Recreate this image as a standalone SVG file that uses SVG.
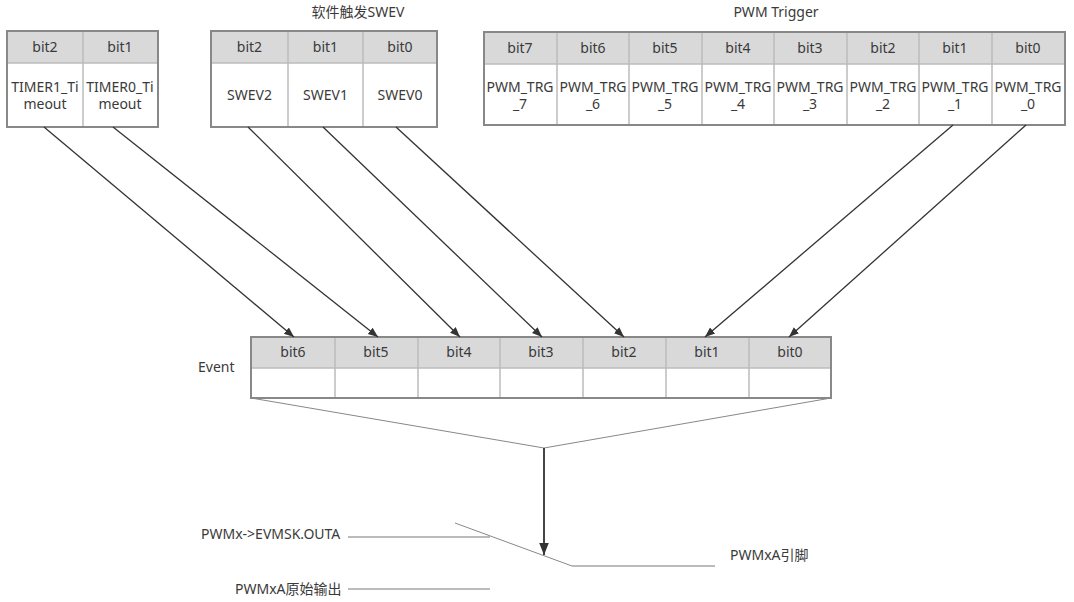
<svg xmlns="http://www.w3.org/2000/svg" width="1074" height="602" viewBox="0 0 1074 602">
<style>
text{font-family:"Noto Sans","Noto Sans CJK SC",sans-serif;font-size:14px;fill:#3a3a3a;}
.c{text-anchor:middle;}
.hdr{fill:#d9d9d9;stroke:none;}
.body{fill:#fff;stroke:none;}
.outer{fill:none;stroke:#888;stroke-width:2;}
.div{stroke:#bbb;stroke-width:1.5;fill:none;}
.conn{stroke:#333;stroke-width:1.3;fill:none;marker-end:url(#ah);}
.thin{stroke:#888;stroke-width:1;fill:none;}
.gl{stroke:#bbb;stroke-width:2;fill:none;}
</style>
<defs>
<marker id="ah" viewBox="0 0 10 10" refX="10" refY="5" markerWidth="10" markerHeight="10" markerUnits="userSpaceOnUse" orient="auto">
<path d="M0,1 L10,5 L0,9 z" fill="#333"/>
</marker>
<marker id="ah2" viewBox="0 0 10 10" refX="10" refY="5" markerWidth="12" markerHeight="12" markerUnits="userSpaceOnUse" orient="auto">
<path d="M0,1 L10,5 L0,9 z" fill="#333"/>
</marker>
</defs>
<rect width="1074" height="602" fill="#fff"/>

<g id="timer">
<rect class="hdr" x="7" y="31" width="151" height="32"/>
<rect class="body" x="7" y="63" width="151" height="64"/>
<line class="div" x1="7" y1="63" x2="158" y2="63"/>
<line class="div" x1="83" y1="31" x2="83" y2="127"/>
<rect class="outer" x="7" y="31" width="151" height="96"/>
<text class="c" x="45" y="52">bit2</text>
<text class="c" x="120" y="52">bit1</text>
<text class="c" x="45" y="92">TIMER1_Ti</text>
<text class="c" x="45" y="109">meout</text>
<text class="c" x="120" y="92">TIMER0_Ti</text>
<text class="c" x="120" y="109">meout</text>
</g>

<g id="swev">
<text class="c" x="358" y="17">软件触发SWEV</text>
<rect class="hdr" x="211" y="31" width="226" height="32"/>
<rect class="body" x="211" y="63" width="226" height="64"/>
<line class="div" x1="211" y1="63" x2="437" y2="63"/>
<line class="div" x1="288" y1="31" x2="288" y2="127"/>
<line class="div" x1="363" y1="31" x2="363" y2="127"/>
<rect class="outer" x="211" y="31" width="226" height="96"/>
<text class="c" x="249.5" y="52">bit2</text>
<text class="c" x="325.5" y="52">bit1</text>
<text class="c" x="400" y="52">bit0</text>
<text class="c" x="249.5" y="100">SWEV2</text>
<text class="c" x="325.5" y="100">SWEV1</text>
<text class="c" x="400" y="100">SWEV0</text>
</g>

<g id="pwmtrg">
<text class="c" x="776" y="17">PWM Trigger</text>
<rect class="hdr" x="484" y="32" width="581" height="32"/>
<rect class="body" x="484" y="64" width="581" height="61"/>
<line class="div" x1="484" y1="64" x2="1065" y2="64"/>
<g class="div">
<line x1="557" y1="32" x2="557" y2="125"/>
<line x1="629" y1="32" x2="629" y2="125"/>
<line x1="702" y1="32" x2="702" y2="125"/>
<line x1="774" y1="32" x2="774" y2="125"/>
<line x1="847" y1="32" x2="847" y2="125"/>
<line x1="919" y1="32" x2="919" y2="125"/>
<line x1="992" y1="32" x2="992" y2="125"/>
</g>
<rect class="outer" x="484" y="32" width="581" height="93"/>
<text class="c" x="520" y="53">bit7</text>
<text class="c" x="593" y="53">bit6</text>
<text class="c" x="665" y="53">bit5</text>
<text class="c" x="738" y="53">bit4</text>
<text class="c" x="810" y="53">bit3</text>
<text class="c" x="883" y="53">bit2</text>
<text class="c" x="955" y="53">bit1</text>
<text class="c" x="1028" y="53">bit0</text>
<text class="c" x="520" y="92">PWM_TRG</text><text class="c" x="520" y="109">_7</text>
<text class="c" x="593" y="92">PWM_TRG</text><text class="c" x="593" y="109">_6</text>
<text class="c" x="665" y="92">PWM_TRG</text><text class="c" x="665" y="109">_5</text>
<text class="c" x="738" y="92">PWM_TRG</text><text class="c" x="738" y="109">_4</text>
<text class="c" x="810" y="92">PWM_TRG</text><text class="c" x="810" y="109">_3</text>
<text class="c" x="883" y="92">PWM_TRG</text><text class="c" x="883" y="109">_2</text>
<text class="c" x="955" y="92">PWM_TRG</text><text class="c" x="955" y="109">_1</text>
<text class="c" x="1028" y="92">PWM_TRG</text><text class="c" x="1028" y="109">_0</text>
</g>

<g id="event">
<text x="198" y="372">Event</text>
<rect class="hdr" x="251" y="337" width="580" height="31"/>
<rect class="body" x="251" y="368" width="580" height="30"/>
<line class="div" x1="251" y1="368" x2="831" y2="368"/>
<g class="div">
<line x1="335" y1="337" x2="335" y2="398"/>
<line x1="418" y1="337" x2="418" y2="398"/>
<line x1="500" y1="337" x2="500" y2="398"/>
<line x1="583" y1="337" x2="583" y2="398"/>
<line x1="666" y1="337" x2="666" y2="398"/>
<line x1="749" y1="337" x2="749" y2="398"/>
</g>
<rect class="outer" x="251" y="337" width="580" height="61"/>
<text class="c" x="293" y="357">bit6</text>
<text class="c" x="376" y="357">bit5</text>
<text class="c" x="459" y="357">bit4</text>
<text class="c" x="541" y="357">bit3</text>
<text class="c" x="624" y="357">bit2</text>
<text class="c" x="707" y="357">bit1</text>
<text class="c" x="790" y="357">bit0</text>
</g>

<g id="output">
<text x="201" y="539">PWMx-&gt;EVMSK.OUTA</text>
<text x="730" y="560">PWMxA引脚</text>
<text x="235" y="594">PWMxA原始输出</text>
<line class="gl" x1="348" y1="537" x2="490" y2="537"/>
<line class="gl" x1="348" y1="589" x2="490" y2="589"/>
<line class="gl" x1="572" y1="566" x2="715" y2="566"/>
<line class="thin" x1="455" y1="523" x2="572" y2="566"/>
</g>

<g id="connectors">
<line class="conn" x1="44" y1="127" x2="294" y2="337"/>
<line class="conn" x1="113" y1="127" x2="378" y2="337"/>
<line class="conn" x1="248" y1="127" x2="460" y2="337"/>
<line class="conn" x1="323" y1="127" x2="542" y2="337"/>
<line class="conn" x1="396" y1="127" x2="624" y2="337"/>
<line class="conn" x1="953" y1="125" x2="705" y2="337"/>
<line class="conn" x1="1026" y1="125" x2="789" y2="337"/>
<polyline class="thin" points="251,398 544,448 831,398"/>
<line x1="544" y1="448" x2="544" y2="555" stroke="#444" stroke-width="2" marker-end="url(#ah2)"/>
</g>
</svg>
